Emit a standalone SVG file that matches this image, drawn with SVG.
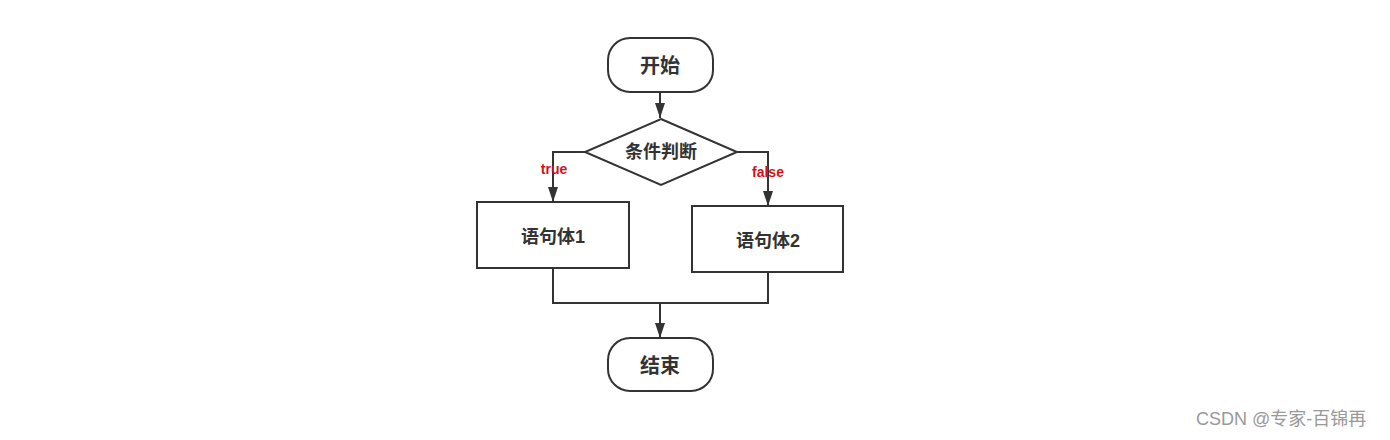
<svg xmlns="http://www.w3.org/2000/svg" width="1390" height="440" viewBox="0 0 1390 440">
<style>
.shape{fill:#fff;stroke:#333;stroke-width:2}
.lbl{font-family:"Liberation Sans","Noto Sans CJK SC",sans-serif;font-weight:bold;fill:#333;text-anchor:middle;dominant-baseline:central}
.edge{fill:none;stroke:#333;stroke-width:2}
.cond{font-family:"Liberation Sans","Noto Sans CJK SC",sans-serif;font-weight:bold;fill:#d0121b;font-size:14px;text-anchor:middle;dominant-baseline:central}
.wm{font-family:"Liberation Sans","Noto Sans CJK SC",sans-serif;fill:#999;font-size:18px}
</style>
<defs>
<marker id="ah" viewBox="0 0 15 10" refX="15" refY="5" markerWidth="15" markerHeight="10" orient="auto" markerUnits="userSpaceOnUse">
<path d="M0,0 L15,5 L0,10 z" fill="#333"/>
</marker>
</defs>
<rect width="1390" height="440" fill="#fff"/>
<g id="connectors">
<path class="edge" d="M660,92 L660,118" marker-end="url(#ah)"/>
<path class="edge" d="M585,152 L553,152 L553,202" marker-end="url(#ah)"/>
<path class="edge" d="M737,152 L768,152 L768,206" marker-end="url(#ah)"/>
<path class="edge" d="M553,268 L553,303 L768,303 L768,272"/>
<path class="edge" d="M660,303 L660,338" marker-end="url(#ah)"/>
<text class="cond" x="554" y="169">true</text>
<text class="cond" x="768" y="172">false</text>
</g>
<g id="start">
<rect class="shape" x="608" y="38" width="105" height="54" rx="22" ry="22"/>
<text class="lbl" x="660" y="66" font-size="20">开始</text>
</g>
<g id="cond">
<polygon class="shape" points="661,119 737,152 661,185 585,152"/>
<text class="lbl" x="661" y="152" font-size="18">条件判断</text>
</g>
<g id="stmt1">
<rect class="shape" x="477" y="202" width="152" height="66"/>
<text class="lbl" x="553" y="237" font-size="18">语句体1</text>
</g>
<g id="stmt2">
<rect class="shape" x="692" y="206" width="151" height="66"/>
<text class="lbl" x="768" y="241" font-size="18">语句体2</text>
</g>
<g id="end">
<rect class="shape" x="608" y="338" width="105" height="53" rx="22" ry="22"/>
<text class="lbl" x="660" y="366" font-size="20">结束</text>
</g>
<text class="wm" x="1196" y="425">CSDN @专家-百锦再</text>
</svg>
